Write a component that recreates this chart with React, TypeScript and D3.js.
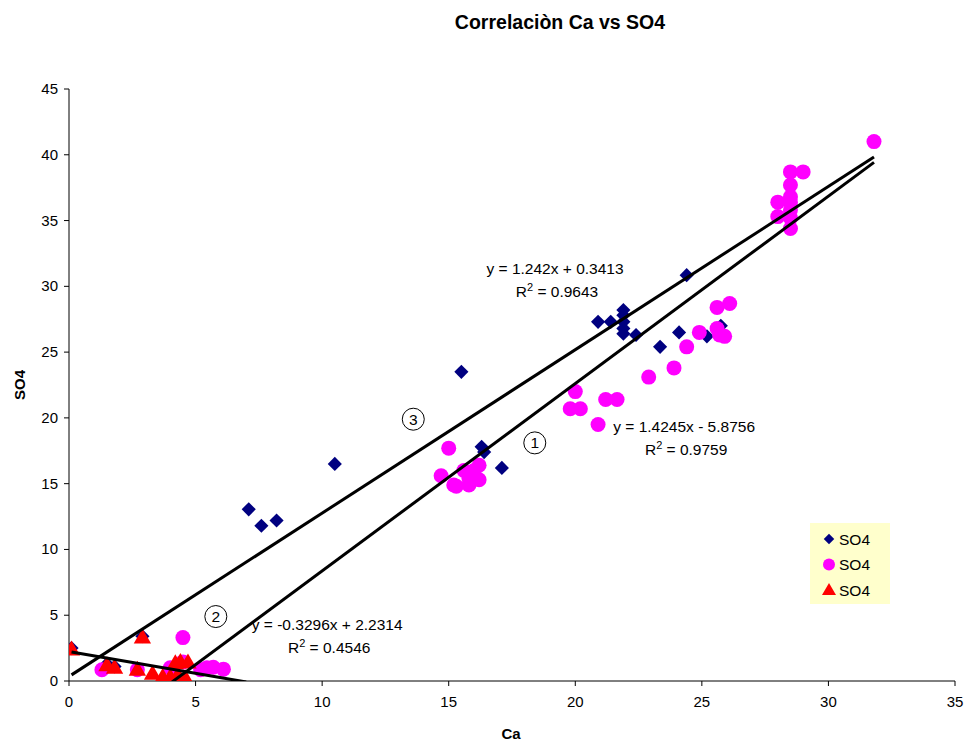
import React from "react";
import * as d3 from "d3";

// ---------- DATA ----------
const blueX = [0.1, 1.5, 1.8, 2.9, 7.1, 7.6, 8.2, 10.5, 15.5, 16.3, 16.4, 17.1, 20.9, 21.4, 21.9, 21.9, 21.9, 21.9, 21.9, 22.4, 23.35, 24.1, 24.4, 25.2, 25.75, 28.5];
const blueY = [2.5, 1.3, 1.1, 3.4, 13.05, 11.8, 12.2, 16.5, 23.5, 17.8, 17.4, 16.2, 27.3, 27.3, 28.2, 27.8, 27.3, 26.8, 26.4, 26.3, 25.4, 26.5, 30.85, 26.2, 27.0, 36.2];

const pinkX = [1.3, 2.7, 4.0, 4.5, 4.5, 5.2, 5.45, 5.7, 6.1, 15.0, 14.7, 15.2, 15.3, 15.8, 16.2, 16.2, 16.0, 15.6, 15.9, 15.8, 19.8, 20.0, 20.2, 20.9, 21.2, 21.65, 22.9, 23.9, 24.4, 24.9, 25.6, 25.6, 25.7, 25.9, 26.1, 28.0, 28.0, 28.5, 28.5, 28.5, 28.5, 28.5, 28.5, 28.5, 29.0, 31.8];
const pinkY = [0.85, 0.85, 1.0, 1.45, 3.3, 0.85, 1.0, 1.05, 0.9, 17.7, 15.6, 14.9, 14.8, 14.9, 15.3, 16.4, 16.0, 16.0, 15.8, 15.4, 20.7, 22.0, 20.7, 19.5, 21.4, 21.4, 23.1, 23.8, 25.4, 26.5, 28.4, 26.8, 26.3, 26.2, 28.7, 36.4, 35.3, 38.7, 37.7, 36.8, 36.4, 35.8, 35.2, 34.4, 38.7, 41.0];

const redX = [0.1, 1.5, 1.8, 2.7, 2.9, 3.3, 3.7, 4.0, 4.2, 4.3, 4.4, 4.6, 4.7];
const redY = [2.4, 1.2, 1.0, 0.85, 3.3, 0.55, 0.3, 0.3, 1.35, 0.45, 1.45, 0.2, 1.4];

// trendlines
const trendSlopes = [1.242, 1.4245, -0.3296];
const trendIntercepts = [0.3413, -5.8756, 2.2314];
const trendXMin = [0.1, 1.3, 0.1];
const trendXMax = [31.8, 31.8, 7.0];
const trendEq = ["y = 1.242x + 0.3413", "y = 1.4245x - 5.8756", "y = -0.3296x + 2.2314"];
const trendR2 = ["0.9643", "0.9759", "0.4546"];
const trendLabelPos = [[19.2, 30.9], [24.3, 18.9], [10.2, 3.9]];
const circleNums = ["3", "1", "2"];
const circlePos = [[13.6, 19.9], [18.4, 18.1], [5.8, 4.9]];

const xTicks = [0, 5, 10, 15, 20, 25, 30, 35];
const yTicks = [0, 5, 10, 15, 20, 25, 30, 35, 40, 45];
const legendLabels = ["SO4", "SO4", "SO4"];

const FONT = "'Liberation Sans', Arial, sans-serif";

export default function App() {
  const W = 966, H = 742;
  const x = d3.scaleLinear().domain([0, 35]).range([69, 955]);
  const y = d3.scaleLinear().domain([0, 45]).range([681, 89]);

  const blue = blueX.map((v, i) => [v, blueY[i]]);
  const pink = pinkX.map((v, i) => [v, pinkY[i]]);
  const red = redX.map((v, i) => [v, redY[i]]);

  const diamond = d3.symbol().type(d3.symbolSquare).size(100)()!;
  const tri = d3.symbol().type(d3.symbolTriangle).size(130)()!;
  const line = d3.line<number[]>().x((d) => x(d[0])).y((d) => y(d[1]));

  return (
    <svg width={W} height={H} style={{ position: "absolute", left: 0, top: 0, background: "#fff" }} fontFamily={FONT}>
      <defs>
        <clipPath id="plotclip">
          <rect x={69} y={89} width={886} height={592} />
        </clipPath>
      </defs>
      <rect x={0} y={0} width={W} height={H} fill="#fff" />
      <text x={560} y={29} textAnchor="middle" fontSize={19.5} fontWeight="bold">Correlaciòn Ca vs SO4</text>

      {/* axes */}
      <line x1={69} x2={69} y1={89} y2={681} stroke="#000" />
      <line x1={69} x2={955} y1={681} y2={681} stroke="#000" />
      {yTicks.map((t) => (
        <g key={"y" + t}>
          <line x1={64} x2={69} y1={y(t)} y2={y(t)} stroke="#000" />
          <text x={58} y={y(t) + 5} textAnchor="end" fontSize={15}>{t}</text>
        </g>
      ))}
      {xTicks.map((t) => (
        <g key={"x" + t}>
          <line x1={x(t)} x2={x(t)} y1={681} y2={686} stroke="#000" />
          <text x={x(t)} y={707} textAnchor="middle" fontSize={15}>{t}</text>
        </g>
      ))}
      <text x={511} y={739} textAnchor="middle" fontSize={15} fontWeight="bold">Ca</text>
      <text transform={`translate(25,385) rotate(-90)`} textAnchor="middle" fontSize={15} fontWeight="bold">SO4</text>

      <g clipPath="url(#plotclip)">
        {blue.map((d, i) => (
          <path key={"b" + i} d={diamond} transform={`translate(${x(d[0])},${y(d[1])}) rotate(45)`} fill="#000080" />
        ))}
        {pink.map((d, i) => (
          <circle key={"p" + i} cx={x(d[0])} cy={y(d[1])} r={7.5} fill="#FF00FF" />
        ))}
        {red.map((d, i) => (
          <path key={"r" + i} d={tri} transform={`translate(${x(d[0])},${y(d[1]) + 1})`} fill="#FF0000" />
        ))}
      </g>

      <g clipPath="url(#plotclip)">
        {trendSlopes.map((m, i) => {
          const pts = [trendXMin[i], trendXMax[i]].map((xv) => [xv, m * xv + trendIntercepts[i]]);
          return <path key={"t" + i} d={line(pts)!} stroke="#000" strokeWidth={3} fill="none" />;
        })}
      </g>

      {trendEq.map((eq, i) => (
        <g key={"e" + i} fontSize={15.5}>
          <text x={x(trendLabelPos[i][0])} y={y(trendLabelPos[i][1])} textAnchor="middle">{eq}</text>
          <text x={x(trendLabelPos[i][0]) + 2} y={y(trendLabelPos[i][1]) + 23} textAnchor="middle">
            R<tspan dy={-6} fontSize={11}>2</tspan><tspan dy={6}> = {trendR2[i]}</tspan>
          </text>
        </g>
      ))}

      {circleNums.map((n, i) => (
        <g key={"c" + i}>
          <circle cx={x(circlePos[i][0])} cy={y(circlePos[i][1])} r={11} fill="#fff" stroke="#000" strokeWidth={1} />
          <text x={x(circlePos[i][0])} y={y(circlePos[i][1]) + 5.5} textAnchor="middle" fontSize={15.5}>{n}</text>
        </g>
      ))}

      {/* legend */}
      <rect x={810} y={523} width={80} height={81} fill="#FFFFCC" />
      {legendLabels.map((l, i) => {
        const ly = 539 + i * 25.5;
        return (
          <g key={"l" + i}>
            {i === 0 && <path d={d3.symbol().type(d3.symbolSquare).size(55)()!} transform={`translate(829,${ly}) rotate(45)`} fill="#000080" />}
            {i === 1 && <circle cx={829} cy={ly} r={6} fill="#FF00FF" />}
            {i === 2 && <path d={d3.symbol().type(d3.symbolTriangle).size(85)()!} transform={`translate(829,${ly + 1})`} fill="#FF0000" />}
            <text x={839} y={ly + 5.5} fontSize={15.5}>{l}</text>
          </g>
        );
      })}
    </svg>
  );
}
